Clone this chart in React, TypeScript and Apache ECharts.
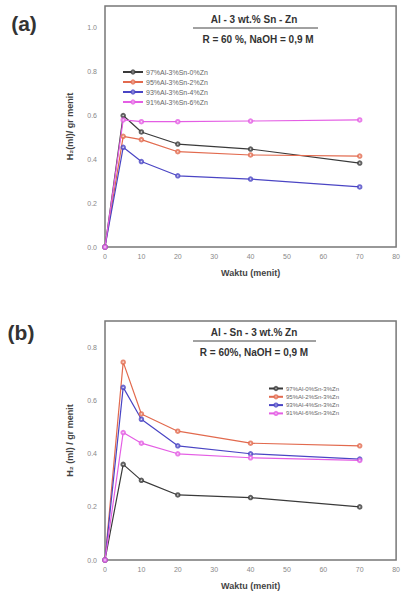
import React, { useEffect, useRef } from "react";
import * as echarts from "echarts";

const times = [0, 5, 10, 20, 40, 70];

const namesA = ["97%Al-3%Sn-0%Zn", "95%Al-3%Sn-2%Zn", "93%Al-3%Sn-4%Zn", "91%Al-3%Sn-6%Zn"];
const a0 = [0, 0.6, 0.525, 0.47, 0.447, 0.383];
const a1 = [0, 0.505, 0.49, 0.435, 0.42, 0.415];
const a2 = [0, 0.455, 0.39, 0.325, 0.31, 0.274];
const a3 = [0, 0.58, 0.572, 0.572, 0.575, 0.58];

const namesB = ["97%Al-0%Sn-3%Zn", "95%Al-2%Sn-3%Zn", "93%Al-4%Sn-3%Zn", "91%Al-6%Sn-3%Zn"];
const b0 = [0, 0.36, 0.3, 0.245, 0.235, 0.2];
const b1 = [0, 0.745, 0.55, 0.485, 0.44, 0.43];
const b2 = [0, 0.65, 0.53, 0.43, 0.4, 0.38];
const b3 = [0, 0.48, 0.44, 0.4, 0.385, 0.375];

const colors = ["#3a3a3a", "#e26a4e", "#4a45c4", "#e45ee4"];
const FONT = "Liberation Sans, Arial, sans-serif";

export default function App() {
  const ref = useRef<HTMLDivElement>(null);
  useEffect(() => {
    const chart = echarts.init(ref.current!, null, { renderer: "svg" });
    const mk = (name: string, vals: number[], idx: number, color: string) => ({
      type: "line",
      name,
      xAxisIndex: idx,
      yAxisIndex: idx,
      data: times.map((t, i) => [t, vals[i]]),
      symbol: "emptyCircle",
      symbolSize: 3.5,
      showSymbol: true,
      lineStyle: { color, width: 1.2 },
      itemStyle: { color, borderWidth: 0.6, opacity: 0.8 },
    });
    const xAx = (gi: number) => ({
      type: "value",
      gridIndex: gi,
      min: 0,
      max: 80,
      interval: 10,
      name: "Waktu (menit)",
      nameLocation: "middle",
      nameGap: 21,
      nameTextStyle: { fontFamily: FONT, fontSize: 9, fontWeight: "bold", color: "#444" },
      axisLine: { show: false },
      axisTick: { show: false },
      splitLine: { show: false },
      axisLabel: { fontFamily: FONT, fontSize: 7, color: "#888", margin: 6 },
    });
    const yAx = (gi: number, max: number, name: string) => ({
      type: "value",
      gridIndex: gi,
      min: 0,
      max,
      interval: 0.2,
      name,
      nameLocation: "middle",
      nameGap: 31,
      nameTextStyle: { fontFamily: FONT, fontSize: 9, fontWeight: "bold", color: "#444" },
      axisLine: { show: false },
      axisTick: { show: false },
      splitLine: { show: false },
      axisLabel: {
        fontFamily: FONT,
        fontSize: 7,
        color: "#888",
        margin: 8,
        formatter: (v: number) => v.toFixed(1),
        showMaxLabel: false,
      },
    });
    const text = (x: number, y: number, t: string, size: number) => ({
      type: "text",
      x,
      y,
      style: {
        text: t,
        fontFamily: FONT,
        fontSize: size,
        fontWeight: "bold",
        fill: "#333",
        align: "center",
        verticalAlign: "middle",
      },
    });
    chart.setOption({
      animation: false,
      backgroundColor: "#fff",
      grid: [
        { left: 105, top: 6, width: 295, height: 241, show: true, borderColor: "#777", borderWidth: 1.5 },
        { left: 105, top: 321, width: 295, height: 239, show: true, borderColor: "#777", borderWidth: 1.5 },
      ],
      xAxis: [xAx(0), xAx(1)],
      yAxis: [yAx(0, 1.1, "H\u2082(ml)/ gr menit"), yAx(1, 0.9, "H\u2082 (ml) / gr menit")],
      legend: [
        {
          data: namesA,
          orient: "vertical",
          left: 117,
          top: 63,
          itemWidth: 20,
          itemHeight: 4,
          itemGap: 2,
          textStyle: { fontFamily: FONT, fontSize: 7, lineHeight: 8, color: "#666", padding: [0, 0, 0, -2] },
        },
        {
          data: namesB,
          orient: "vertical",
          left: 263,
          top: 380,
          itemWidth: 14,
          itemHeight: 4,
          itemGap: 1.3,
          textStyle: { fontFamily: FONT, fontSize: 6, lineHeight: 7, color: "#666", padding: [0, 0, 0, -2] },
        },
      ],
      graphic: [
        text(24, 23, "(a)", 21),
        text(21, 332, "(b)", 21),
        text(254, 19, "Al - 3 wt.% Sn - Zn", 10),
        { type: "line", shape: { x1: 193, y1: 28, x2: 318, y2: 28 }, style: { stroke: "#444", lineWidth: 1 } },
        text(258, 39, "R = 60 %, NaOH = 0,9 M", 10),
        text(254, 332, "Al - Sn - 3 wt.% Zn", 10),
        { type: "line", shape: { x1: 193, y1: 341, x2: 316, y2: 341 }, style: { stroke: "#444", lineWidth: 1 } },
        text(254, 352, "R = 60%, NaOH = 0,9 M", 10),
      ],
      series: [
        mk(namesA[0], a0, 0, colors[0]),
        mk(namesA[1], a1, 0, colors[1]),
        mk(namesA[2], a2, 0, colors[2]),
        mk(namesA[3], a3, 0, colors[3]),
        mk(namesB[0], b0, 1, colors[0]),
        mk(namesB[1], b1, 1, colors[1]),
        mk(namesB[2], b2, 1, colors[2]),
        mk(namesB[3], b3, 1, colors[3]),
      ],
    });
    return () => chart.dispose();
  }, []);
  return (
    <div
      ref={ref}
      style={{ position: "fixed", left: 0, top: 0, width: 403, height: 595, background: "#fff" }}
    />
  );
}
